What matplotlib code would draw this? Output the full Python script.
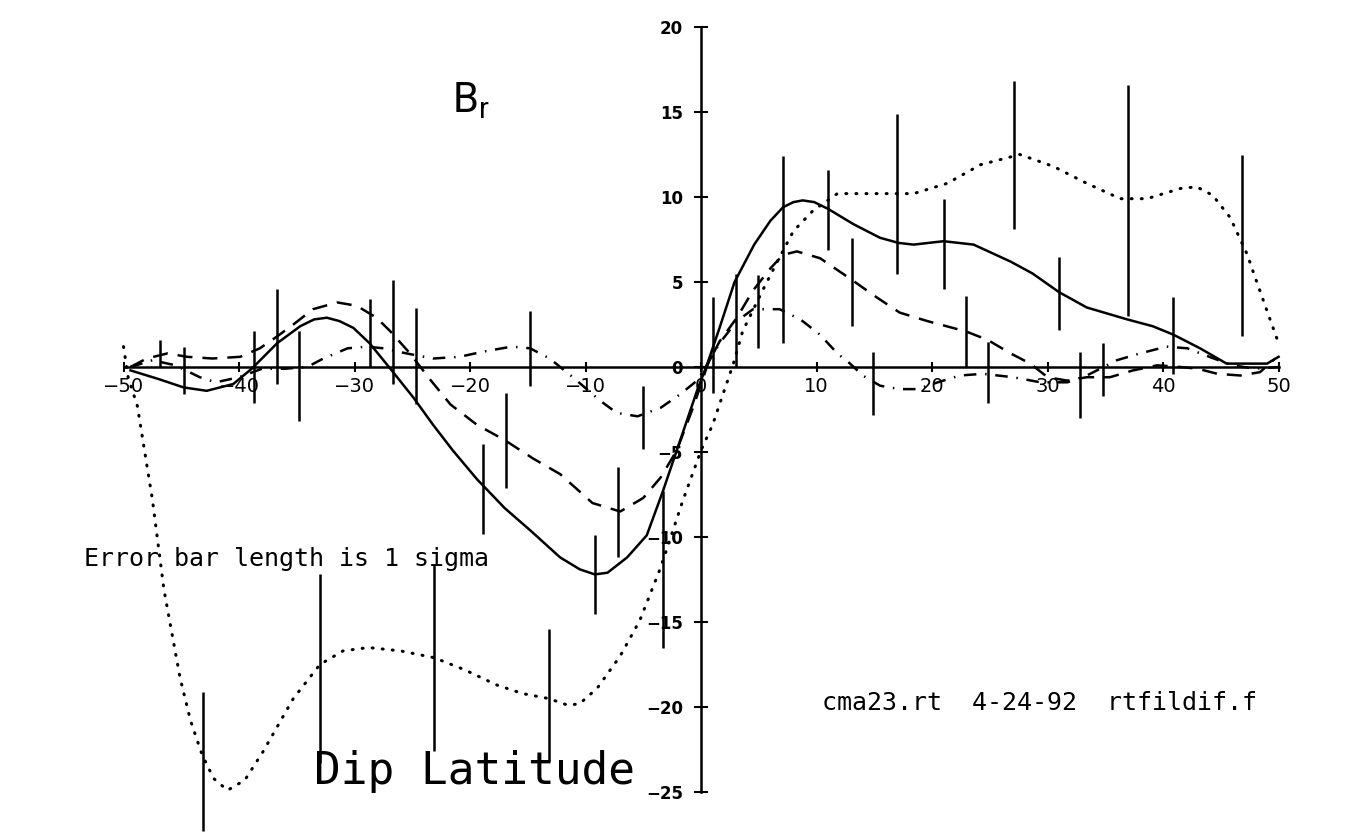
import matplotlib
matplotlib.use("Agg")
import matplotlib.pyplot as plt

plt.rcParams["mathtext.default"] = "regular"

# Radial field difference vs dip latitude, four models
solid_lat = [-49.4, -47.0, -44.8, -42.8, -40.5, -38.9, -36.7, -34.7, -33.5, -32.4,
             -31.3, -30.1, -28.7, -26.9, -24.9, -23.2, -21.5, -19.4, -17.0, -14.8,
             -12.2, -10.5, -9.2, -8.1, -6.4, -4.7, -3.3, -2.1, -0.35, 0.6,
             1.6, 2.9, 4.6, 6.0, 7.1, 8.0, 8.8, 9.8, 11.0, 13.2,
             15.5, 17.1, 18.4, 21.0, 23.6, 26.8, 28.7, 31.0, 33.4, 36.9,
             39.1, 40.9, 43.2, 45.5, 47.8, 49.0, 50.0]
solid_br = [-0.2, -0.7, -1.2, -1.4, -1.0, -0.1, 1.4, 2.4, 2.8, 2.9,
            2.7, 2.3, 1.4, -0.1, -1.8, -3.4, -4.9, -6.6, -8.3, -9.6,
            -11.2, -11.9, -12.2, -12.1, -11.2, -9.9, -7.3, -4.9, -1.4, 0.3,
            2.3, 5.0, 7.2, 8.6, 9.4, 9.7, 9.8, 9.7, 9.3, 8.4,
            7.6, 7.3, 7.2, 7.4, 7.2, 6.2, 5.5, 4.4, 3.5, 2.8,
            2.4, 1.9, 1.1, 0.2, 0.2, 0.2, 0.6]

dash_lat = [-49.4, -48.0, -46.2, -44.5, -42.3, -39.9, -38.2, -36.7, -35.3, -33.6,
            -31.5, -29.8, -28.1, -26.9, -25.2, -23.5, -21.7, -19.4, -17.0, -14.5,
            -12.2, -9.4, -7.0, -5.0, -3.5, -2.1, -0.7, 0.6, 1.6, 3.1,
            4.5, 6.0, 7.1, 8.3, 10.3, 12.9, 15.2, 17.2, 19.6, 22.9,
            24.8, 26.8, 28.5, 30.0, 31.7, 33.4, 35.4, 37.4, 39.5, 41.5,
            43.0, 44.7, 46.7, 48.4, 49.7]
dash_br = [0.0, 0.5, 0.8, 0.6, 0.5, 0.6, 1.1, 1.8, 2.5, 3.4,
           3.8, 3.6, 2.9, 2.1, 0.8, -0.7, -2.2, -3.4, -4.3, -5.4,
           -6.3, -8.0, -8.5, -7.7, -6.5, -4.9, -2.4, 0.2, 1.5, 2.9,
           4.5, 5.8, 6.6, 6.8, 6.4, 5.2, 4.1, 3.2, 2.7, 2.1,
           1.6, 0.8, 0.2, -0.6, -0.8, -0.6, -0.6, -0.2, 0.1, 0.0,
           -0.1, -0.4, -0.5, -0.3, 0.5]

dashdot_lat = [-49.4, -47.5, -45.5, -43.4, -42.0, -40.0, -38.0, -36.0, -34.1, -32.7,
               -30.6, -28.9, -27.5, -25.5, -23.2, -20.9, -18.9, -16.4, -14.8, -13.1,
               -11.1, -8.7, -7.3, -5.5, -3.5, -1.8, -0.35, 0.4, 1.6, 3.1,
               4.5, 6.8, 8.6, 10.3, 11.8, 12.9, 14.0, 15.5, 17.2, 18.7,
               20.5, 22.4, 24.4, 27.0, 29.4, 31.7, 33.4, 36.0, 38.0, 40.3,
               42.1, 44.0, 46.0, 48.0, 50.0]
dashdot_br = [0.0, 0.4, 0.1, -0.6, -0.9, -0.6, -0.1, -0.1, 0.0, 0.5,
              1.1, 1.2, 1.1, 0.8, 0.5, 0.6, 0.9, 1.2, 1.1, 0.5,
              -0.6, -2.0, -2.7, -2.9, -2.4, -1.6, -0.8, 0.0, 1.4, 2.7,
              3.4, 3.4, 2.8, 1.9, 0.8, 0.2, -0.5, -1.1, -1.3, -1.3,
              -0.9, -0.5, -0.4, -0.6, -0.9, -0.9, -0.5, 0.4, 0.8, 1.2,
              1.1, 0.6, 0.1, -0.1, 0.0]

dot_lat = [-50.0, -49.6, -48.8, -47.5, -46.5, -45.1, -44.2, -43.2, -42.2, -41.0,
           -39.5, -37.9, -35.3, -33.0, -31.0, -28.8, -26.0, -23.1, -20.5, -17.7,
           -15.5, -13.2, -11.5, -10.5, -9.0, -7.0, -5.3, -3.5, -1.6, 0.0,
           1.0, 2.0, 2.8, 3.6, 5.4, 6.6, 8.0, 9.7, 11.8, 15.8,
           18.4, 21.3, 24.2, 27.6, 30.5, 33.4, 36.3, 38.6, 41.5, 42.9,
           44.3, 45.8, 47.3, 47.8, 49.0, 50.0]
dot_br = [1.2, -0.6, -2.3, -7.8, -13.1, -18.3, -20.8, -22.8, -24.2, -24.9,
          -24.3, -22.6, -19.5, -17.5, -16.7, -16.5, -16.7, -17.1, -17.8, -18.7,
          -19.2, -19.5, -19.9, -19.8, -18.9, -17.0, -14.9, -11.8, -7.9, -4.9,
          -3.4, -1.4, 0.2, 2.1, 4.6, 6.2, 8.0, 9.2, 10.2, 10.2,
          10.2, 10.8, 11.9, 12.5, 11.8, 10.8, 9.9, 9.9, 10.5, 10.6,
          10.1, 8.8, 6.6, 5.6, 3.3, 1.4]

# 1-sigma error bars: latitude, lower end, upper end
err_lat = [-46.8, -44.8, -38.7, -36.7, -34.8, -28.7, -26.7, -24.7, -18.9, -16.9,
           -14.8, -9.2, -7.2, -5.0, -3.3, 1.0, 3.0, 4.9, 7.1, 11.0,
           13.1, 14.9, 17.0, 21.0, 22.9, 24.8, 27.1, 31.0, 32.8, 34.8,
           37.0, 40.9, 46.8, -43.1, -33.0, -23.1, -13.2]
err_lo = [0.0, -1.6, -2.1, -1.0, -3.2, 0.0, -1.0, -2.2, -9.8, -7.1,
          -1.1, -14.5, -11.2, -4.8, -16.5, -1.5, 0.0, 1.1, 1.4, 6.9,
          2.4, -2.8, 5.5, 4.6, 0.0, -2.1, 8.1, 2.2, -3.0, -1.7,
          3.0, -0.4, 1.8, -27.3, -23.3, -22.6, -23.2]
err_hi = [1.6, 1.2, 2.1, 4.6, 2.1, 4.0, 5.1, 3.5, -4.5, -1.5,
          3.3, -9.9, -5.9, -1.1, -7.3, 4.1, 5.5, 5.4, 12.4, 11.6,
          7.6, 0.9, 14.9, 9.9, 4.2, 1.5, 16.8, 6.5, 0.9, 1.4,
          16.6, 4.1, 12.5, -19.1, -12.2, -11.6, -15.4]

x_ticks = [-50, -40, -30, -20, -10, 0, 10, 20, 30, 40, 50]
y_ticks = [-25, -20, -15, -10, -5, 0, 5, 10, 15, 20]


def tick_str(v):
    return str(v).replace("-", "\u2212")


fig = plt.figure(figsize=(13.5, 8.36), dpi=100)
ax = fig.add_axes([0.0915, 0.0526, 0.8556, 0.9151])
ax.set_xlim(-50, 50)
ax.set_ylim(-25, 20)

lw = 1.8
ax.plot(solid_lat, solid_br, color="k", lw=lw, clip_on=False)
ax.plot(dash_lat, dash_br, color="k", lw=lw, dashes=(6, 4), clip_on=False)
ax.plot(dashdot_lat, dashdot_br, color="k", lw=lw,
        dashes=(5, 3.5, 0.6, 3.5), clip_on=False)
ax.plot(dot_lat, dot_br, color="k", lw=2.2, dashes=(0.3, 3.0),
        dash_capstyle="round", clip_on=False)
ax.vlines(err_lat, err_lo, err_hi, color="k", lw=lw, clip_on=False)

# axes cross at the origin
for side in ["top", "right"]:
    ax.spines[side].set_visible(False)
ax.spines["left"].set_position(("data", 0))
ax.spines["bottom"].set_position(("data", 0))
ax.spines["left"].set_linewidth(lw)
ax.spines["bottom"].set_linewidth(lw)

ax.set_xticks(x_ticks)
ax.set_xticklabels([tick_str(t) for t in x_ticks], fontsize=14)
ax.set_yticks(y_ticks)
ax.set_yticklabels([tick_str(t) for t in y_ticks], fontsize=12, fontweight="bold")
ax.tick_params(axis="x", direction="inout", length=7, width=1.5, pad=4)
ax.tick_params(axis="y", direction="inout", length=10, width=1.5, pad=8)

ax.text(-21.6, 15.0, "B$_{r}$", fontsize=30,
        family=["Roboto", "DejaVu Sans"], ha="left", va="baseline")
ax.text(-35.9, -11.7, "Error bar length is 1 sigma", fontsize=18,
        family="DejaVu Sans Mono", ha="center", va="baseline")
ax.text(-19.6, -24.5, "Dip Latitude", fontsize=32,
        family="DejaVu Sans Mono", ha="center", va="baseline")
ax.text(29.3, -20.2, "cma23.rt  4-24-92  rtfildif.f", fontsize=18,
        family="DejaVu Sans Mono", ha="center", va="baseline")

fig.savefig("out.png", dpi=100)
